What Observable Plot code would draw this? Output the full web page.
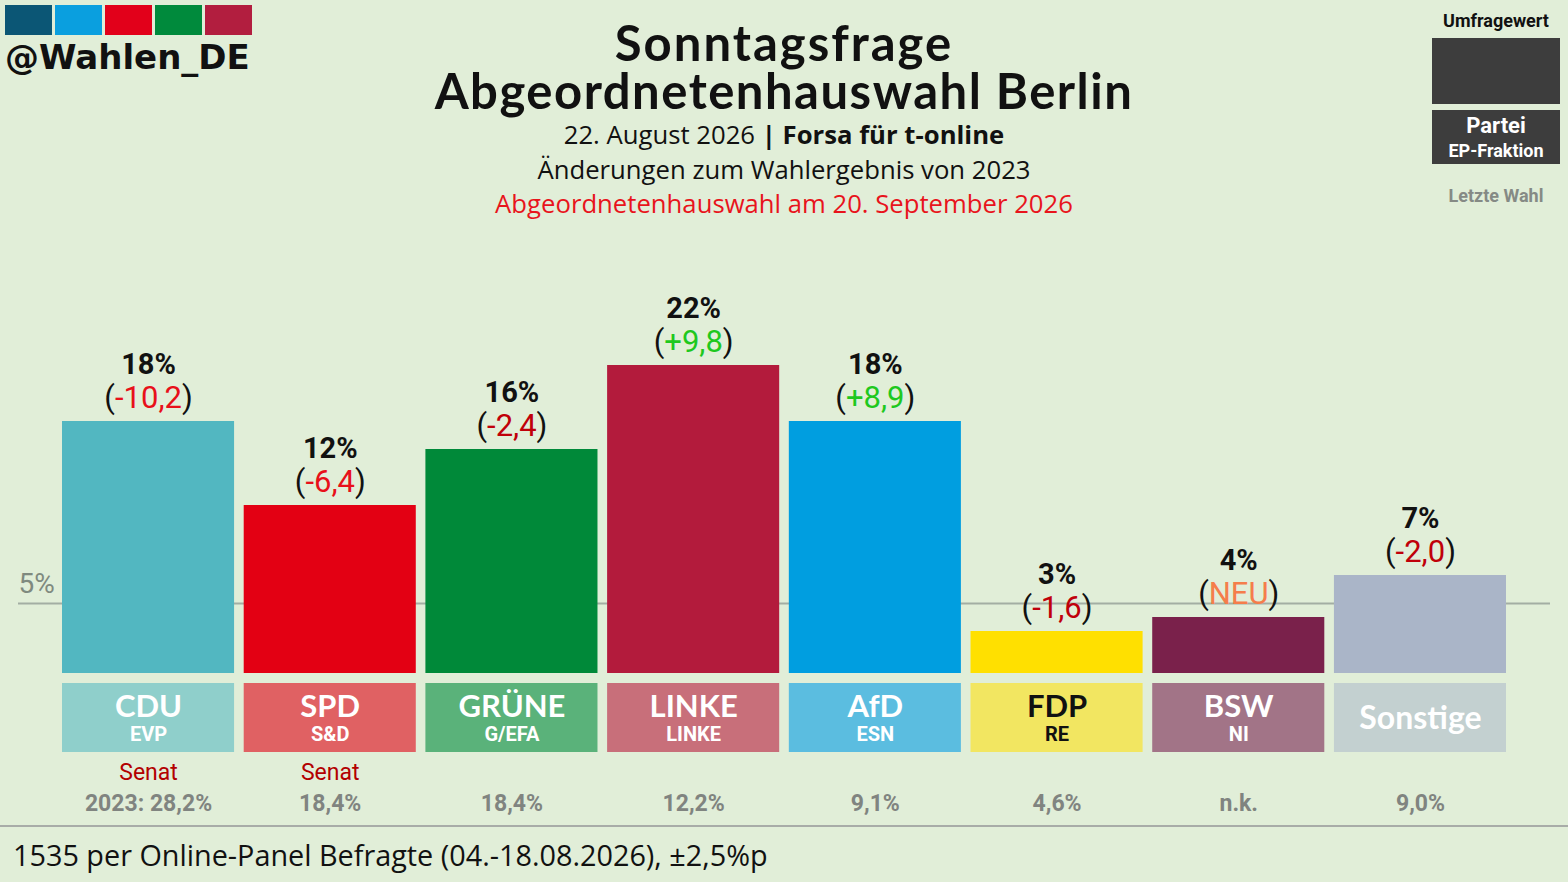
<!DOCTYPE html>
<html>
<head>
<meta charset="utf-8">
<script src="https://cdn.jsdelivr.net/npm/d3@7"></script>
<script src="https://cdn.jsdelivr.net/npm/@observablehq/plot@0.6"></script>
<style>
  html, body { margin: 0; padding: 0; background: #e1eed8; }
  #wrap { position: relative; width: 1568px; height: 882px; background: #e1eed8; overflow: hidden; font-family: "Open Sans", sans-serif; }
  .abs { position: absolute; white-space: nowrap; }
  .center { left: 0; width: 1568px; text-align: center; }
  .logo { position: absolute; top: 5px; width: 47px; height: 30px; }
  #chart { position: absolute; left: 0; top: 0; }
</style>
</head>
<body>
<div id="wrap">
  <div class="logo" style="left:5px;background:#0b5675"></div>
  <div class="logo" style="left:55px;background:#0a9fdf"></div>
  <div class="logo" style="left:105px;background:#e2001a"></div>
  <div class="logo" style="left:155px;background:#008a3c"></div>
  <div class="logo" style="left:205px;background:#b21e3f"></div>
  <div class="abs" style="left:5px;top:37px;font:bold 34px/40px 'DejaVu Sans';color:#111;letter-spacing:0px">@Wahlen_DE</div>

  <div id="chart"></div>

  <div class="abs center" style="top:18px;font:bold 49px/48px Lato;color:#111;letter-spacing:1.5px"><span style="letter-spacing:2px">Sonntagsfrage</span><br>Abgeordnetenhauswahl Berlin</div>
  <div class="abs center" style="top:120px;font:25.7px/30px 'Open Sans';color:#111">22. August 2026 <b>| Forsa für t-online</b></div>
  <div class="abs center" style="top:155px;font:25.7px/30px 'Open Sans';color:#111">Änderungen zum Wahlergebnis von 2023</div>
  <div class="abs center" style="top:189px;font:25.7px/30px 'Open Sans';color:#e8141c">Abgeordnetenhauswahl am 20. September 2026</div>

  <div class="abs" style="left:1432px;width:128px;text-align:center;top:9px;font:bold 18px/24px Roboto;color:#111">Umfragewert</div>
  <div class="abs" style="left:1432px;top:38px;width:128px;height:66px;background:#3d3d3d"></div>
  <div class="abs" style="left:1432px;top:110px;width:128px;height:54px;background:#3d3d3d"></div>
  <div class="abs" style="left:1432px;width:128px;text-align:center;top:112px;font:bold 22px/28px Roboto;color:#fff">Partei</div>
  <div class="abs" style="left:1432px;width:128px;text-align:center;top:140px;font:bold 18px/22px Roboto;color:#fff">EP-Fraktion</div>
  <div class="abs" style="left:1432px;width:128px;text-align:center;top:184px;font:bold 18px/24px Roboto;color:#858a85">Letzte Wahl</div>

  <div class="abs" style="left:0;top:825px;width:1568px;height:2px;background:#a8aca8"></div>
  <div class="abs" style="left:13px;top:836px;font:28.8px/38px 'Open Sans';color:#111">1535 per Online-Panel Befragte (04.-18.08.2026), ±2,5%p</div>
</div>
<script>
// ---- data ----
const parties   = ["CDU", "SPD", "GRÜNE", "LINKE", "AfD", "FDP", "BSW", "Sonstige"];
const fraktion  = ["EVP", "S&D", "G/EFA", "LINKE", "ESN", "RE", "NI", ""];
const values    = [18, 12, 16, 22, 18, 3, 4, 7];
const changes   = [-10.2, -6.4, -2.4, 9.8, 8.9, -1.6, null, -2.0];
const lastVote  = [28.2, 18.4, 18.4, 12.2, 9.1, 4.6, null, 9.0];
const senat     = [true, true, false, false, false, false, false, false];
const threshold = [5];

// ---- styles ----
const barColor = {CDU:"#52b7c1", SPD:"#e30013", "GRÜNE":"#008939", LINKE:"#b31b3c", AfD:"#009ee0", FDP:"#ffe000", BSW:"#7a214b", Sonstige:"#aab5c8"};
const boxColor = {CDU:"#8fcfcb", SPD:"#e06163", "GRÜNE":"#5ab27a", LINKE:"#c86f7a", AfD:"#5bbde0", FDP:"#f2e661", BSW:"#a27487", Sonstige:"#c3d0d0"};
const nameColor = p => p === "FDP" ? "#111" : "#fff";

const fmt = v => v.toFixed(1).replace(".", ",");
const fmtSigned = v => (v > 0 ? "+" : "") + fmt(v);

const data = parties.map((p, i) => ({
  party: p, sub: fraktion[i], value: values[i], change: changes[i],
  last: lastVote[i], senat: senat[i], first: i === 0
}));

const PX = 14;                      // pixels per percentage point
const yMax = 673 / PX;
const boxTop = -10 / PX, boxBottom = -79 / PX;

const chart = Plot.plot({
  width: 1568, height: 882,
  marginTop: 0, marginRight: 0, marginBottom: 0, marginLeft: 0,
  x: {domain: parties, range: [62, 1506], paddingInner: 0.053, paddingOuter: 0, round: false, axis: null},
  y: {domain: [0, yMax], range: [673, 0], axis: null},
  style: {background: "transparent", overflow: "visible"},
  marks: [
    Plot.ruleY(threshold, {stroke: "#a3aea3", strokeWidth: 2, insetLeft: 18, insetRight: 18}),
    Plot.text(threshold, {y: d => d, text: d => d + "%", frameAnchor: "left", dx: 18, dy: -19, textAnchor: "start",
      fill: "#7f8a7f", fontSize: 28, fontFamily: "Roboto"}),
    Plot.barY(data, {x: "party", y: "value", fill: d => barColor[d.party]}),
    Plot.barY(data, {x: "party", y1: boxTop, y2: boxBottom, fill: d => boxColor[d.party]}),
    Plot.text(data.filter(d => d.sub), {x: "party", y: 0, dy: 34, text: "party", fill: d => nameColor(d.party),
      fontSize: 31, fontWeight: "bold", fontFamily: "Lato"}),
    Plot.text(data.filter(d => d.sub), {x: "party", y: 0, dy: 61, text: "sub", fill: d => nameColor(d.party),
      fontSize: 20, fontWeight: "bold", fontFamily: "Roboto"}),
    Plot.text(data.filter(d => !d.sub), {x: "party", y: 0, dy: 45, text: "party", fill: "#fff",
      fontSize: 32, fontWeight: "bold", fontFamily: "Lato"}),
    Plot.text(data, {x: "party", y: "value", dy: -57, text: d => d.value + "%", fill: "#111",
      fontSize: 29, fontWeight: "bold", fontFamily: "Roboto"}),
    Plot.text(data, {x: "party", y: "value", dy: -23, text: d => "(" + (d.change == null ? "NEU" : fmtSigned(d.change)) + ")",
      fill: "#111", fontSize: 31, fontFamily: "Roboto"}),
    Plot.text(data.filter(d => d.senat), {x: "party", y: 0, dy: 99, text: () => "Senat", fill: "#b30000",
      fontSize: 23, fontFamily: "Roboto"}),
    Plot.text(data, {x: "party", y: 0, dy: 130, text: d => d.last == null ? "n.k." : (d.first ? "2023: " : "") + fmt(d.last) + "%",
      fill: "#808480", fontSize: 23, fontWeight: "bold", fontFamily: "Roboto"})
  ]
});
document.getElementById("chart").appendChild(chart);

// colour the inner part of the change labels "( … )"
d3.select(chart).selectAll("text").each(function() {
  const t = this.textContent;
  if (!/^\(.*\)$/.test(t)) return;
  const inner = t.slice(1, -1);
  let col;
  if (inner === "NEU") col = "#f57d4b";
  else if (inner.startsWith("+")) col = "#1ec81e";
  else if (parseFloat(inner.replace(",", ".")) <= -5) col = "#e8101a";
  else col = "#c0000a";
  const sel = d3.select(this);
  sel.text(null);
  sel.append("tspan").attr("fill", "#111").text("(");
  sel.append("tspan").attr("fill", col).text(inner);
  sel.append("tspan").attr("fill", "#111").text(")");
});
</script>
</body>
</html>
